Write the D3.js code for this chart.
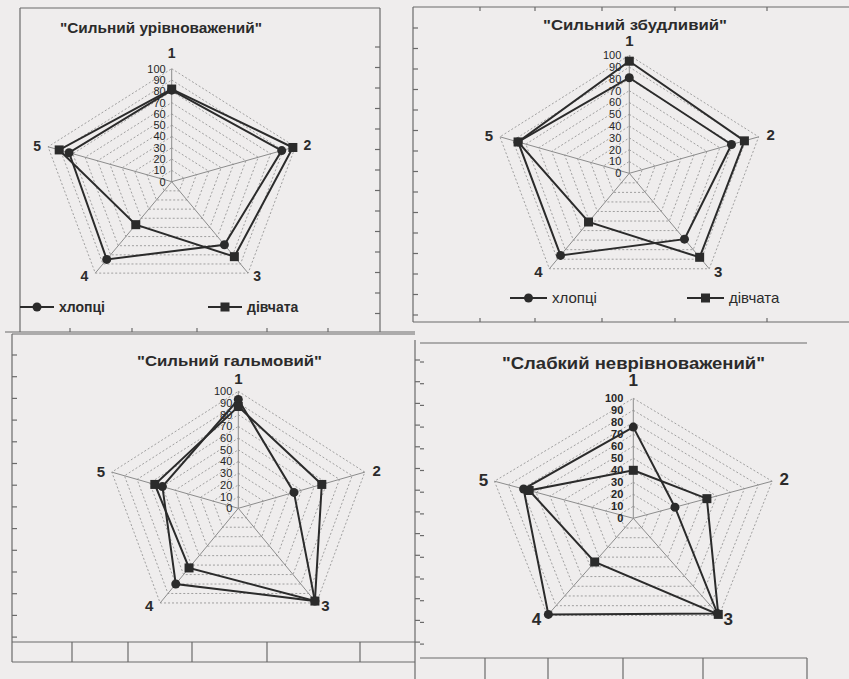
<!DOCTYPE html>
<html>
<head>
<meta charset="utf-8">
<script src="https://cdn.jsdelivr.net/npm/d3@7"></script>
<style>
body { margin: 0; background: #efeded; }
svg  { display: block; font-family: "Liberation Sans", Arial, sans-serif; }
</style>
</head>
<body>
<svg id="chart" width="849" height="679"></svg>
<script>

// radar charts, four types of nervous system, boys vs girls

var AXES   = ["1", "2", "3", "4", "5"];
var TICKS  = [0, 10, 20, 30, 40, 50, 60, 70, 80, 90, 100];
var SERIES = ["хлопці", "дівчата"];
var TITLES = ['"Сильний урівноважений"', '"Сильний збудливий"',
              '"Сильний гальмовий"', '"Слабкий неврівноважений"'];

var boys1  = [81, 89, 69, 85, 83];
var girls1 = [82, 98, 82, 47, 91];

var boys2  = [81, 79, 69, 86, 86];
var girls2 = [95, 89, 88, 51, 86];

var boys3  = [93, 44, 98, 80, 60];
var girls3 = [87, 66, 98, 63, 66];

var boys4  = [76, 30, 98, 99, 79];
var girls4 = [40, 53, 99, 45, 75];

var svg = d3.select("#chart");
var INK = "#2b2b2b";

// offsets of the axis names from the outer vertex (axis 1 set per chart)
var nameOffset = [[0, -17], [12, -2], [9, 3], [-11, 3], [-11, -1]];

function drawradar(opt) {

    var g  = svg.append("g");
    var sx = d3.scaleLinear().domain([0, 100]).range([0, opt.rx]);
    var sy = d3.scaleLinear().domain([0, 100]).range([0, opt.ry]);
    var angle = d3.scalePoint().domain(AXES).range([0, 2 * Math.PI * 4 / 5]);

    function pt(axis, v) {
	var a = angle(axis);
	return [opt.cx + sx(v) * Math.sin(a), opt.cy - sy(v) * Math.cos(a)];
    }

    // dotted rings
    TICKS.slice(1).forEach(function(t) {
	g.append("polygon")
	    .attr("points", AXES.map(function(a) { return pt(a, t).join(","); }).join(" "))
	    .attr("fill", "none")
	    .attr("stroke", "#8c8c8c")
	    .attr("stroke-width", 0.8)
	    .attr("stroke-dasharray", "2,2");
    });

    // spokes
    AXES.forEach(function(a) {
	var p = pt(a, 100);
	g.append("line")
	    .attr("x1", opt.cx).attr("y1", opt.cy)
	    .attr("x2", p[0]).attr("y2", p[1])
	    .attr("stroke", "#8c8c8c")
	    .attr("stroke-width", 1);
    });

    // tick labels on axis 1
    g.selectAll(".tick")
	.data(TICKS)
	.enter()
	.append("text")
	.attr("x", opt.cx - opt.tickGap)
	.attr("y", function(d) { return opt.cy - sy(d); })
	.attr("dy", "0.36em")
	.attr("text-anchor", "end")
	.attr("font-size", opt.tickSize)
	.attr("font-weight", opt.tickWeight)
	.attr("fill", "#262626")
	.text(function(d) { return d; });

    // axis names
    AXES.forEach(function(a, i) {
	var p = pt(a, 100);
	var dy = (i == 0) ? opt.nameTop : nameOffset[i][1];
	g.append("text")
	    .attr("x", p[0] + nameOffset[i][0])
	    .attr("y", p[1] + dy)
	    .attr("dy", "0.36em")
	    .attr("text-anchor", "middle")
	    .attr("font-size", opt.nameSize)
	    .attr("font-weight", "bold")
	    .attr("fill", INK)
	    .text(a);
    });

    // series
    var line = d3.line().curve(d3.curveLinearClosed);
    [opt.boys, opt.girls].forEach(function(vals, s) {
	var pts = AXES.map(function(a, i) { return pt(a, vals[i]); });
	g.append("path")
	    .attr("d", line(pts))
	    .attr("fill", "none")
	    .attr("stroke", INK)
	    .attr("stroke-width", 2);
	pts.forEach(function(p) {
	    if (s == 0) {
		g.append("circle").attr("cx", p[0]).attr("cy", p[1]).attr("r", 4.5).attr("fill", INK);
	    } else {
		g.append("rect").attr("x", p[0] - 4.5).attr("y", p[1] - 4.5)
		    .attr("width", 9).attr("height", 9).attr("fill", INK);
	    }
	});
    });

    // title
    g.append("text")
	.attr("x", opt.titleX)
	.attr("y", opt.titleY)
	.attr("dy", "0.36em")
	.attr("text-anchor", "middle")
	.attr("font-size", opt.titleSize)
	.attr("font-weight", "bold")
	.attr("fill", INK)
	.attr("textLength", opt.titleW)
	.attr("lengthAdjust", "spacingAndGlyphs")
	.text(opt.title);

    // legend
    if (opt.legend) {
	var L = opt.legend;
	SERIES.forEach(function(name, s) {
	    var x0 = L.x[s], y = L.y;
	    g.append("line").attr("x1", x0).attr("x2", x0 + L.len).attr("y1", y).attr("y2", y)
		.attr("stroke", INK).attr("stroke-width", 2);
	    if (s == 0) {
		g.append("circle").attr("cx", x0 + L.len / 2).attr("cy", y).attr("r", 4.5).attr("fill", INK);
	    } else {
		g.append("rect").attr("x", x0 + L.len / 2 - 4.5).attr("y", y - 4.5)
		    .attr("width", 9).attr("height", 9).attr("fill", INK);
	    }
	    g.append("text")
		.attr("x", x0 + L.len + 5)
		.attr("y", y)
		.attr("dy", "0.36em")
		.attr("font-size", L.size)
		.attr("font-weight", L.weight)
		.attr("fill", INK)
		.text(name);
	});
    }
}

// page frames (table lines of the scanned page)
var frame = svg.append("g").attr("stroke", "#6a6a6a").attr("stroke-width", 1.2).attr("fill", "none");

function seg(x1, y1, x2, y2) {
    frame.append("line").attr("x1", x1).attr("y1", y1).attr("x2", x2).attr("y2", y2);
}
function vticks(x, y0, y1, step, len) {
    for (var y = y0; y <= y1; y += step) seg(x, y, x + len, y);
}
function hticks(y, xs, len) {
    xs.forEach(function(x) { seg(x, y, x, y + len); });
}

// top-left
seg(20, 8, 380, 8);
seg(20, 8, 20, 332);
seg(380, 8, 380, 332);
vticks(380, 47, 320, 20.5, -5);
seg(5, 332, 415, 332);
hticks(332, [70, 132, 197, 267, 328], -4);
// top-right
seg(413, 7, 849, 7);
hticks(7, [480, 535, 602, 675, 767], 4);
seg(413, 7, 413, 322);
vticks(413, 28, 315, 20.5, 5);
seg(413, 322, 849, 322);
hticks(322, [480, 535, 602, 675, 767], -4);
// bottom-left
seg(12, 334, 415, 334);
seg(12, 334, 12, 662);
vticks(12, 355, 640, 21.7, 5);
seg(415, 340, 415, 679);
vticks(415, 360, 660, 21.7, 5);
seg(12, 642, 415, 642);
seg(12, 662, 415, 662);
[72, 128, 192, 267, 360].forEach(function(x) { seg(x, 642, x, 662); });
// bottom-right
seg(420, 343, 807, 343);
vticks(420, 362, 650, 21.7, 4);
seg(420, 658, 807, 658);
[485, 548, 623, 703, 807].forEach(function(x) { seg(x, 658, x, 679); });

drawradar({cx: 171.7, cy: 181.7, rx: 130, ry: 113, boys: boys1, girls: girls1,
	   title: TITLES[0], titleX: 161, titleY: 28, titleSize: 14, titleW: 202,
	   tickSize: 11, tickWeight: "normal", tickGap: 6, nameSize: 14, nameTop: -16,
	   legend: {x: [20, 208], y: 307, len: 34, size: 14, weight: "bold"}});

drawradar({cx: 629.3, cy: 173.3, rx: 136, ry: 118, boys: boys2, girls: girls2,
	   title: TITLES[1], titleX: 635, titleY: 25, titleSize: 15, titleW: 184,
	   tickSize: 11, tickWeight: "normal", tickGap: 8, nameSize: 15, nameTop: -15,
	   legend: {x: [510, 687], y: 298, len: 37, size: 15, weight: "normal"}});

drawradar({cx: 238.3, cy: 508.3, rx: 133, ry: 117, boys: boys3, girls: girls3,
	   title: TITLES[2], titleX: 229.5, titleY: 361, titleSize: 15, titleW: 185,
	   tickSize: 11, tickWeight: "normal", tickGap: 6, nameSize: 15, nameTop: -13,
	   legend: null});

drawradar({cx: 633.3, cy: 518.3, rx: 146, ry: 120, boys: boys4, girls: girls4,
	   title: TITLES[3], titleX: 633.5, titleY: 363, titleSize: 17, titleW: 263,
	   tickSize: 11, tickWeight: "bold", tickGap: 10, nameSize: 17, nameTop: -18,
	   legend: null});

</script>
</body>
</html>
